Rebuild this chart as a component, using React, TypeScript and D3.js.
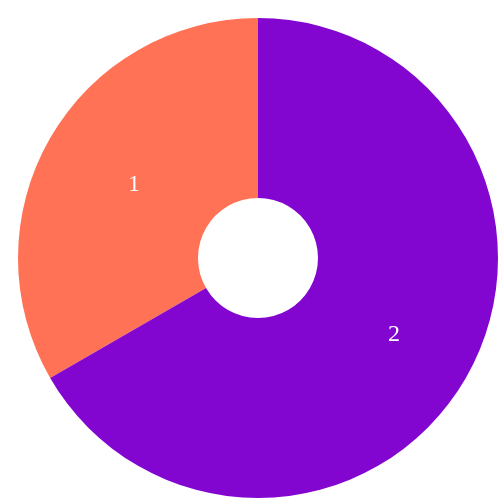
import React from 'react';
import * as d3 from 'd3';

const labels = ['1', '2'];
const values = [1, 2];
const colors = ['#ff7256', '#8206d0'];

const width = 500;
const height = 500;
const outer = 240;
const inner = 60;

export default function App() {
    const data = values.map((v, i) => ({ label: labels[i], value: v, color: colors[i] }));
    const pie = d3.pie<any>().value(d => d.value);
    const arc = d3.arc<any>().innerRadius(inner).outerRadius(outer);
    const arcs = pie(data);

    // fixed so the page never gets a scrollbar that clips the right edge
    return (
        <svg width={width} height={height} style={{ position: 'fixed', left: 8, top: 8 }}>
            <g transform={`translate(${width / 2},${height / 2})`}>
                {arcs.map((d, i) => (
                    <g key={i} className="slice">
                        <path d={arc(d) || ''} fill={d.data.color} />
                        <text
                            transform={`translate(${arc.centroid(d)})`}
                            dy=".35em"
                            fill="#fff"
                            fontFamily='"Liberation Serif", "Times New Roman", serif'
                            fontSize={24}
                        >
                            {d.data.label}
                        </text>
                    </g>
                ))}
            </g>
        </svg>
    );
}
